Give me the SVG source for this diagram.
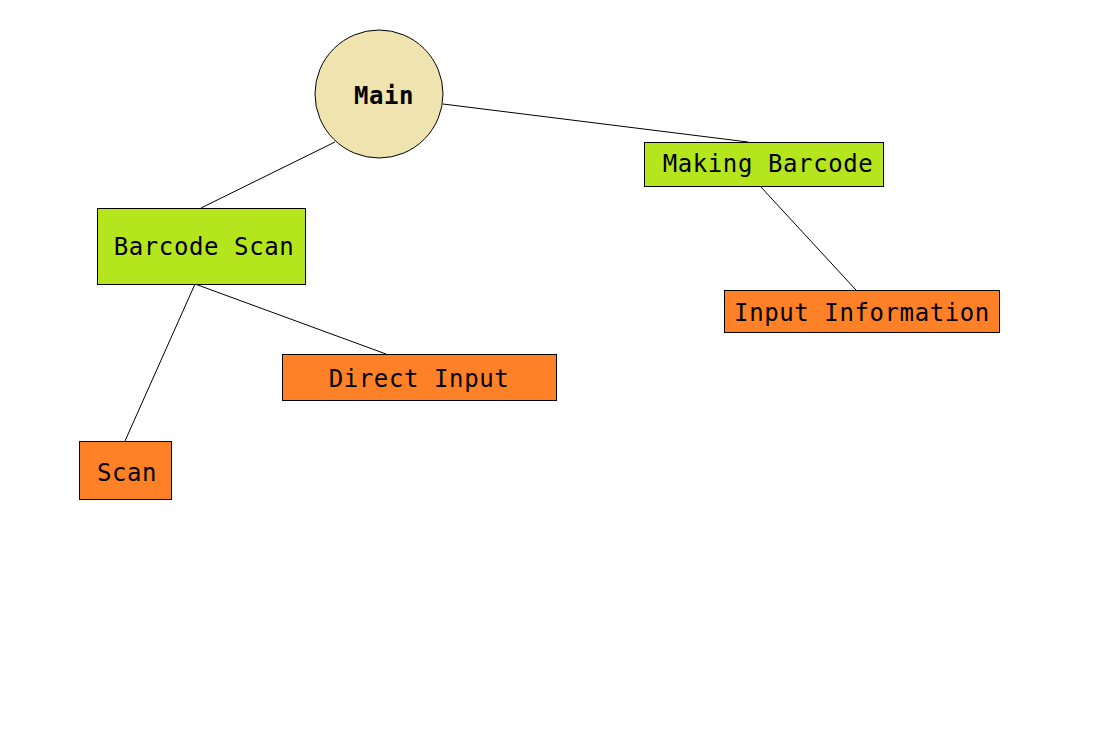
<svg xmlns="http://www.w3.org/2000/svg" width="1108" height="747" viewBox="0 0 1108 747">
<style>
.box{stroke:#000;stroke-width:1}
.g{fill:#b5e61d}
.o{fill:#fe8027}
.t{font-family:"DejaVu Sans Mono","Liberation Mono",monospace;font-size:24px;letter-spacing:0.6px;fill:#000;text-anchor:middle}
.e{stroke:#000;stroke-width:1;fill:none}
</style>
<rect width="1108" height="747" fill="#fff"/>
<g id="connectors">
<line class="e" x1="335" y1="142" x2="201" y2="208"/>
<line class="e" x1="443" y1="104" x2="748" y2="142"/>
<line class="e" x1="760" y1="186" x2="856" y2="290"/>
<line class="e" x1="195" y1="284" x2="125" y2="441"/>
<line class="e" x1="195" y1="284" x2="386" y2="354"/>
</g>
<g id="main">
<circle cx="379" cy="94" r="64" fill="#efe4b0" stroke="#000"/>
<text class="t" x="384" y="104" font-weight="bold">Main</text>
</g>
<g id="barcode-scan">
<rect class="box g" x="97.5" y="208.5" width="208" height="76"/>
<text class="t" x="204" y="255">Barcode Scan</text>
</g>
<g id="making-barcode">
<rect class="box g" x="644.5" y="142.5" width="239" height="44"/>
<text class="t" x="768" y="172">Making Barcode</text>
</g>
<g id="input-information">
<rect class="box o" x="724.5" y="290.5" width="275" height="42"/>
<text class="t" x="862" y="321">Input Information</text>
</g>
<g id="direct-input">
<rect class="box o" x="282.5" y="354.5" width="274" height="46"/>
<text class="t" x="419" y="387">Direct Input</text>
</g>
<g id="scan">
<rect class="box o" x="79.5" y="441.5" width="92" height="58"/>
<text class="t" x="127" y="481">Scan</text>
</g>
</svg>
